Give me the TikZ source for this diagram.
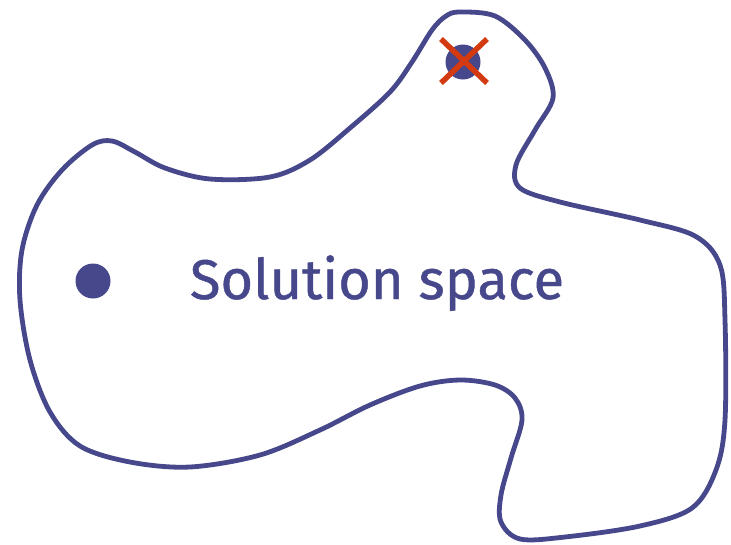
\documentclass[tikz,border=0pt]{standalone}
\usepackage{fontspec}
\setmainfont{Fira Sans}
\newfontfamily\labelfont{Fira Sans}[FakeBold=0.8]
\definecolor{spaceblue}{RGB}{71,72,140}
\definecolor{crossred}{RGB}{212,58,15}
\begin{document}
\begin{tikzpicture}[x=1pt,y=-1pt,
  outline/.style={draw=spaceblue,line width=4.8pt,line join=round},
  dotmark/.style={circle,fill=spaceblue,inner sep=0pt,minimum size=35pt},
  crossline/.style={draw=crossred,line width=5.5pt},
  label/.style={text=spaceblue,font=\labelfont\fontsize{56}{60}\selectfont,inner sep=0pt}]
\useasboundingbox (0,0) rectangle (731,544);
\draw[outline] plot[smooth cycle,tension=0.55] coordinates {
 (460,12) (495,16) (525,40) (545,68) (553,98) (535,130) (516,165) (520,188)
 (560,202) (640,220) (695,236) (720,265) (725,320) (725,420) (716,470)
 (692,508) (640,526) (565,537) (520,539) (501,522) (501,495) (511,458)
 (522,420) (515,398) (495,385) (460,380) (420,386) (370,405) (320,430)
 (260,455) (190,467) (130,462) (80,446) (50,412) (30,360) (20,300)
 (22,250) (37,205) (62,170) (92,145) (112,141) (135,152) (165,168)
 (210,179) (270,177) (310,160) (350,128) (390,92) (412,62) (432,30) (446,16)};
\node[dotmark] (good) at (93,281) {};
\node[dotmark] (bad) at (463,62) {};
\coordinate (c1) at (441,39);
\coordinate (c2) at (487,83);
\coordinate (c3) at (487,39);
\coordinate (c4) at (441,83);
\draw[crossline] (c1) -- (c2);
\draw[crossline] (c3) -- (c4);
\node[label,anchor=base] (title) at (377,299) {Solution space};
\end{tikzpicture}
\end{document}
